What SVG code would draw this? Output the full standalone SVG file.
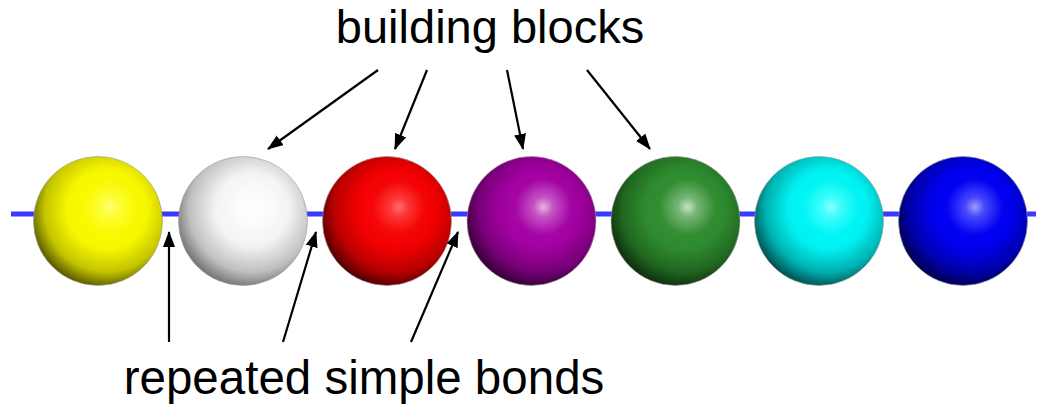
<svg xmlns="http://www.w3.org/2000/svg" width="1038" height="404" viewBox="0 0 1038 404">
<style>
.lbl{font-family:"Liberation Sans",Arial,sans-serif;font-size:47px;fill:#000;text-anchor:middle}
.arr{stroke:#000;stroke-width:2.2;fill:none;marker-end:url(#ah)}
.sph{stroke:#9a9a9a;stroke-width:1;stroke-opacity:0.6}
.hl{fill:url(#gH)}
</style>
<defs>
<marker id="ah" viewBox="0 0 16 12" refX="15" refY="6" markerWidth="16" markerHeight="12" markerUnits="userSpaceOnUse" orient="auto">
<path d="M0,0 L16,6 L0,12 Z" fill="#000"/>
</marker>
<radialGradient id="gH" cx="0.5" cy="0.5" r="0.5">
<stop offset="0" stop-color="#fff" stop-opacity="0.8"/><stop offset="0.35" stop-color="#fff" stop-opacity="0.35"/><stop offset="1" stop-color="#fff" stop-opacity="0"/>
</radialGradient>
<radialGradient id="gY" cx="0.57" cy="0.41" r="0.62">
<stop offset="0" stop-color="#ffff00"/><stop offset="0.5" stop-color="#f6f600"/><stop offset="0.78" stop-color="#c4c400"/><stop offset="1" stop-color="#505000"/>
</radialGradient>
<radialGradient id="gW" cx="0.57" cy="0.41" r="0.62">
<stop offset="0" stop-color="#ffffff"/><stop offset="0.45" stop-color="#f4f4f4"/><stop offset="0.78" stop-color="#c0c0c0"/><stop offset="1" stop-color="#6e6e6e"/>
</radialGradient>
<radialGradient id="gR" cx="0.57" cy="0.41" r="0.62">
<stop offset="0" stop-color="#ff1010"/><stop offset="0.5" stop-color="#f00000"/><stop offset="0.78" stop-color="#b80000"/><stop offset="1" stop-color="#480000"/>
</radialGradient>
<radialGradient id="gP" cx="0.57" cy="0.41" r="0.62">
<stop offset="0" stop-color="#b010b0"/><stop offset="0.5" stop-color="#a000a0"/><stop offset="0.78" stop-color="#760076"/><stop offset="1" stop-color="#300030"/>
</radialGradient>
<radialGradient id="gG" cx="0.57" cy="0.41" r="0.62">
<stop offset="0" stop-color="#3a963a"/><stop offset="0.5" stop-color="#2e8a2e"/><stop offset="0.78" stop-color="#206620"/><stop offset="1" stop-color="#0c2a0c"/>
</radialGradient>
<radialGradient id="gC" cx="0.57" cy="0.41" r="0.62">
<stop offset="0" stop-color="#00ffff"/><stop offset="0.5" stop-color="#00f0f0"/><stop offset="0.78" stop-color="#00b0b0"/><stop offset="1" stop-color="#004848"/>
</radialGradient>
<radialGradient id="gB" cx="0.57" cy="0.41" r="0.62">
<stop offset="0" stop-color="#0808ff"/><stop offset="0.5" stop-color="#0000ee"/><stop offset="0.78" stop-color="#0000aa"/><stop offset="1" stop-color="#000048"/>
</radialGradient>
</defs>
<rect width="1038" height="404" fill="#fff"/>
<g id="chain">
<line x1="11" y1="214" x2="1036" y2="214" stroke="#3a3aff" stroke-width="5"/>
</g>
<g id="sphere-yellow"><circle class="sph" cx="98" cy="221" r="64.5" fill="url(#gY)"/><circle class="hl" cx="110" cy="207" r="28" opacity="0.6"/></g>
<g id="sphere-white"><circle class="sph" cx="243" cy="221" r="64.5" fill="url(#gW)"/><circle class="hl" cx="255" cy="207" r="28"/></g>
<g id="sphere-red"><circle class="sph" cx="387" cy="221" r="64.5" fill="url(#gR)"/><circle class="hl" cx="399" cy="207" r="26" opacity="0.5"/></g>
<g id="sphere-purple"><circle class="sph" cx="531.5" cy="221" r="64.5" fill="url(#gP)"/><circle class="hl" cx="543.5" cy="207" r="28" opacity="0.85"/></g>
<g id="sphere-green"><circle class="sph" cx="675.5" cy="221" r="64.5" fill="url(#gG)"/><circle class="hl" cx="687.5" cy="207" r="28" opacity="0.9"/></g>
<g id="sphere-cyan"><circle class="sph" cx="819" cy="221" r="64.5" fill="url(#gC)"/><circle class="hl" cx="831" cy="207" r="28" opacity="0.7"/></g>
<g id="sphere-blue"><circle class="sph" cx="963" cy="221" r="64.5" fill="url(#gB)"/><circle class="hl" cx="975" cy="207" r="28" opacity="0.75"/></g>
<g id="label-top"><text class="lbl" x="490" y="43">building blocks</text></g>
<g id="label-bottom"><text class="lbl" x="364" y="394" style="font-size:47.5px">repeated simple bonds</text></g>
<g id="connectors">
<line class="arr" x1="378" y1="70" x2="268" y2="149"/>
<line class="arr" x1="427" y1="70" x2="395" y2="149"/>
<line class="arr" x1="507" y1="70" x2="523" y2="149"/>
<line class="arr" x1="587" y1="70" x2="650" y2="149"/>
<line class="arr" x1="169" y1="342" x2="169" y2="232"/>
<line class="arr" x1="283" y1="342" x2="316" y2="232"/>
<line class="arr" x1="411" y1="342" x2="458" y2="232"/>
</g>
</svg>
